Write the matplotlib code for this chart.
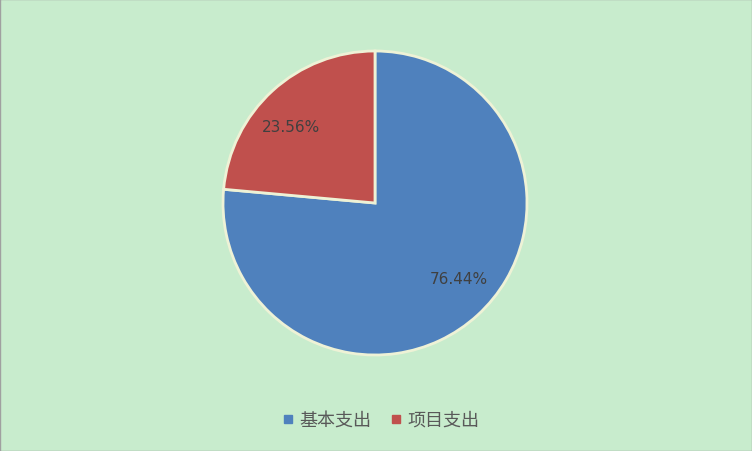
import matplotlib
matplotlib.use("Agg")
import matplotlib.pyplot as plt
from matplotlib.patches import Rectangle
from matplotlib.lines import Line2D

plt.rcParams['font.family'] = ['Noto Sans CJK SC', 'DejaVu Sans']

categories = ['基本支出', '项目支出']
values = [76.44, 23.56]
colors = ['#4F81BD', '#C0504D']
bg = '#C8ECCD'

fig = plt.figure(figsize=(7.52, 4.52), dpi=100, facecolor=bg)
W, H = 752, 452
cx, cy, r = 375, 204, 152
ax = fig.add_axes([(cx - r) / W, (H - cy - r) / H, 2 * r / W, 2 * r / H])
ax.set_facecolor(bg)

wedges, texts, autotexts = ax.pie(
    values, colors=colors, startangle=90, counterclock=False,
    autopct=lambda p: f'{p:.2f}%', pctdistance=0.74,
    wedgeprops=dict(edgecolor='#EEF2D6', linewidth=2),
    textprops=dict(color='#404040', fontsize=11, family='DejaVu Sans'))
# label placement as in reference
label_pos = [(0.55, -0.50), (-0.555, 0.50)]
for t, p in zip(autotexts, label_pos):
    t.set_position(p)
ax.set_xlim(-1, 1)
ax.set_ylim(-1, 1)
ax.set_aspect('equal')
ax.axis('off')

handles = [Line2D([0], [0], marker='s', linestyle='', markersize=6,
                  markerfacecolor=c, markeredgecolor=c) for c in colors]
fig.legend(handles, categories, loc='center', bbox_to_anchor=(380 / W, 1 - 421 / H),
           ncol=2, frameon=False, fontsize=13, handletextpad=0.2,
           columnspacing=1.0, labelcolor='#595959', handlelength=0.8)

fig.patches.append(Rectangle((0, 0), 1, 1, transform=fig.transFigure,
                             fill=False, edgecolor='#A0A0A0', linewidth=1))
fig.savefig('out.png', dpi=100, facecolor=bg)
